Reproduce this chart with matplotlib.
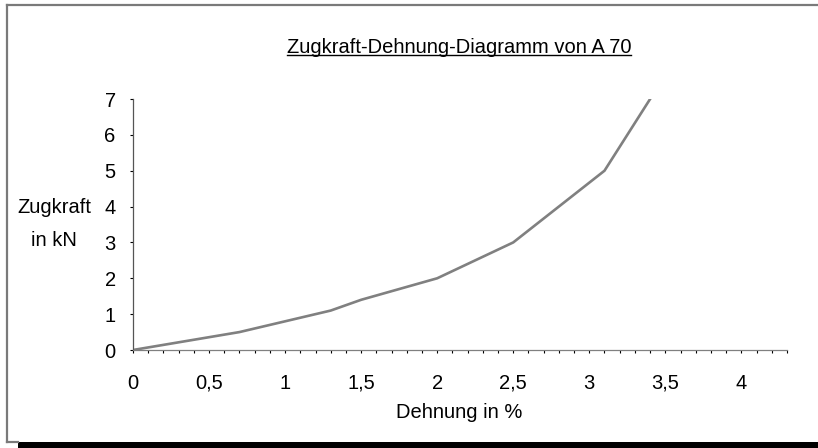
import numpy as np
import matplotlib
matplotlib.use("Agg")
import matplotlib.pyplot as plt
from matplotlib.lines import Line2D
from matplotlib.patches import Rectangle

plt.rcParams["font.family"] = ["Liberation Sans", "DejaVu Sans"]

# Messwerte (Dehnung in %, Zugkraft in kN)
dehnung = [0, 0.7, 1.3, 1.5, 2.0, 2.5, 2.8, 3.1, 3.4]
zugkraft = [0, 0.5, 1.1, 1.4, 2.0, 3.0, 4.0, 5.0, 7.0]

x_major = [0, 0.5, 1, 1.5, 2, 2.5, 3, 3.5, 4]
x_labels = ["0", "0,5", "1", "1,5", "2", "2,5", "3", "3,5", "4"]
y_major = [0, 1, 2, 3, 4, 5, 6, 7]

W, H = 818, 448
FS = 14.5
fig = plt.figure(figsize=(W / 100, H / 100), dpi=100)


def fx(px):
    return px / W


def fy(py):
    return 1 - py / H


# Rahmen und Schatten
grau = "#7a7a7a"
fig.add_artist(Line2D([fx(7), fx(7)], [fy(5.5), fy(442)], color=grau, lw=1.6))
fig.add_artist(Line2D([fx(7), 1], [fy(5.5), fy(5.5)], color=grau, lw=1.6))
fig.add_artist(Line2D([fx(7), fx(18)], [fy(442), fy(442)], color=grau, lw=1.6))
fig.add_artist(Rectangle((fx(18), 0), 1 - fx(18), 6.5 / H, transform=fig.transFigure,
                         facecolor="black", edgecolor="none"))

ax = fig.add_axes([fx(133), fy(350), (787 - 133) / W, (350 - 99) / H])
ax.plot(dehnung, zugkraft, color="#808080", lw=1.9, solid_joinstyle="miter")

ax.set_xlim(0, 4.3)
ax.set_ylim(0, 7)
ax.set_xticks(x_major)
ax.set_xticklabels(x_labels)
ax.set_xticks(np.arange(0, 4.31, 0.1), minor=True)
ax.set_yticks(y_major)

for s in ["top", "right"]:
    ax.spines[s].set_visible(False)
ax.spines["left"].set_color("#555555")
ax.spines["bottom"].set_color("#808080")
for s in ["left", "bottom"]:
    ax.spines[s].set_linewidth(0.9)

ax.tick_params(axis="x", which="both", direction="out", length=2.5, width=0.8, color="black",
               labelsize=FS, pad=14.5)
ax.tick_params(axis="y", which="both", direction="out", length=2.5, width=0.8, color="black",
               labelsize=FS, pad=10)

fig.text(fx(459), fy(418), "Dehnung in %", fontsize=FS, ha="center", va="baseline")

fig.text(fx(54), fy(213), "Zugkraft", fontsize=FS, ha="center", va="baseline")
fig.text(fx(54), fy(246), "in kN", fontsize=FS, ha="center", va="baseline")

t = fig.text(fx(459), fy(53), "Zugkraft-Dehnung-Diagramm von A 70", fontsize=FS,
             ha="center", va="baseline")

# Titel unterstreichen
fig.canvas.draw()
bb = t.get_window_extent(renderer=fig.canvas.get_renderer())
ul = fy(55)
fig.add_artist(Line2D([bb.x0 / W, bb.x1 / W], [ul, ul], color="black", lw=1.0))

fig.savefig("out.png", dpi=100)
